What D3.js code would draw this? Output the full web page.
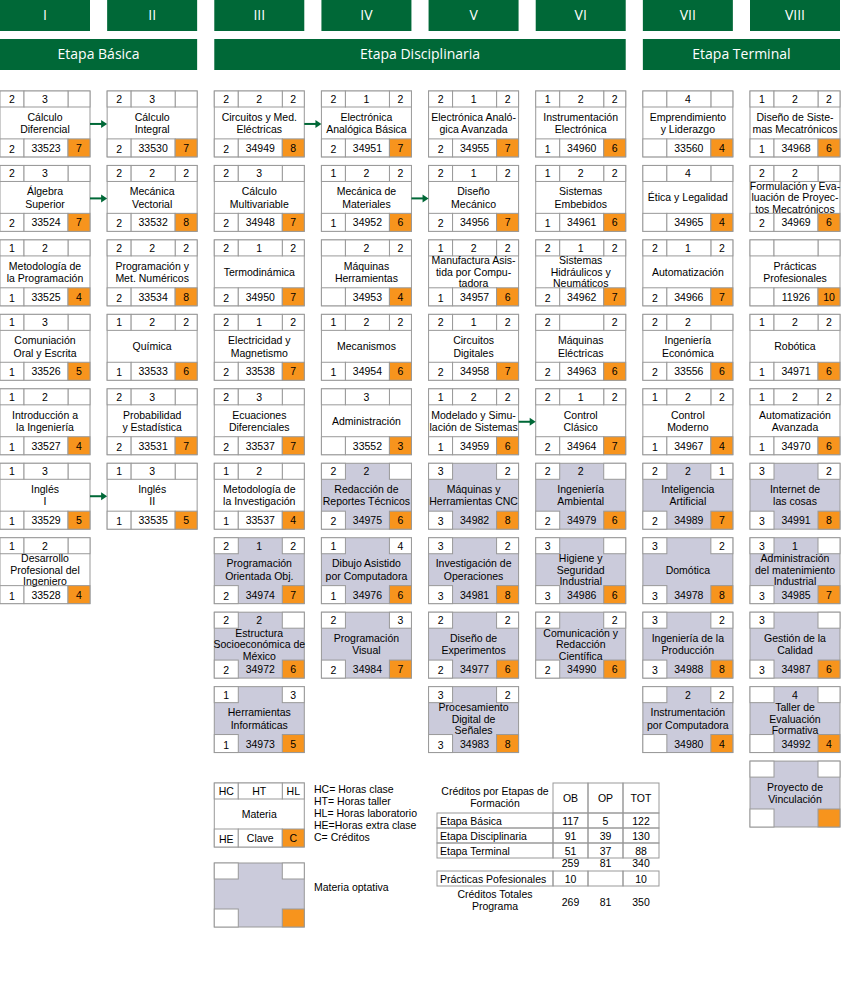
<!DOCTYPE html>
<html><head><meta charset="utf-8">
<script src="https://cdn.jsdelivr.net/npm/d3@7"></script>
<style>body{margin:0;background:#fff}svg{font-family:"Liberation Sans",Arial,sans-serif}</style>
</head><body><svg id="c" width="843" height="984"></svg>
<script>
const semesters=["I","II","III","IV","V","VI","VII","VIII"];
const etapas=[["Etapa Básica",0,1],["Etapa Disciplinaria",2,5],["Etapa Terminal",6,7]];
// [col,row,HC,HT,HL,HE,clave,C,name,optional]
const courses=[
[0,0,2,3,"",2,"33523",7,"Cálculo|Diferencial",0],
[0,1,2,3,"",2,"33524",7,"Álgebra|Superior",0],
[0,2,1,2,"",1,"33525",4,"Metodología de|la Programación",0],
[0,3,1,3,"",1,"33526",5,"Comuniación|Oral y Escrita",0],
[0,4,1,2,"",1,"33527",4,"Introducción a|la Ingeniería",0],
[0,5,1,3,"",1,"33529",5,"Inglés|I",0],
[0,6,1,2,"",1,"33528",4,"Desarrollo|Profesional del|Ingeniero",0],
[1,0,2,3,"",2,"33530",7,"Cálculo|Integral",0],
[1,1,2,2,2,2,"33532",8,"Mecánica|Vectorial",0],
[1,2,2,2,2,2,"33534",8,"Programación y|Met. Numéricos",0],
[1,3,1,2,2,1,"33533",6,"Química",0],
[1,4,2,3,"",2,"33531",7,"Probabilidad|y Estadística",0],
[1,5,1,3,"",1,"33535",5,"Inglés|II",0],
[2,0,2,2,2,2,"34949",8,"Circuitos y Med.|Eléctricas",0],
[2,1,2,3,"",2,"34948",7,"Cálculo|Multivariable",0],
[2,2,2,1,2,2,"34950",7,"Termodinámica",0],
[2,3,2,1,2,2,"33538",7,"Electricidad y|Magnetismo",0],
[2,4,2,3,"",2,"33537",7,"Ecuaciones|Diferenciales",0],
[2,5,1,2,"",1,"33537",4,"Metodología de|la Investigación",0],
[2,6,2,1,2,2,"34974",7,"Programación|Orientada Obj.",1],
[2,7,2,2,"",2,"34972",6,"Estructura|Socioeconómica de|México",1],
[2,8,1,"",3,1,"34973",5,"Herramientas|Informáticas",1],
[3,0,2,1,2,2,"34951",7,"Electrónica|Analógica Básica",0],
[3,1,1,2,2,1,"34952",6,"Mecánica de|Materiales",0],
[3,2,"",2,2,"","34953",4,"Máquinas|Herramientas",0],
[3,3,1,2,2,1,"34954",6,"Mecanismos",0],
[3,4,"",3,"","","33552",3,"Administración",0],
[3,5,2,2,"",2,"34975",6,"Redacción de|Reportes Técnicos",1],
[3,6,1,"",4,1,"34976",6,"Dibujo Asistido|por Computadora",1],
[3,7,2,"",3,2,"34984",7,"Programación|Visual",1],
[4,0,2,1,2,2,"34955",7,"Electrónica Analó-|gica Avanzada",0],
[4,1,2,1,2,2,"34956",7,"Diseño|Mecánico",0],
[4,2,1,2,2,1,"34957",6,"Manufactura Asis-|tida por Compu-|tadora",0],
[4,3,2,1,2,2,"34958",7,"Circuitos|Digitales",0],
[4,4,1,2,2,1,"34959",6,"Modelado y Simu-|lación de Sistemas",0],
[4,5,3,"",2,3,"34982",8,"Máquinas y|Herramientas CNC",1],
[4,6,3,"",2,3,"34981",8,"Investigación de|Operaciones",1],
[4,7,2,"",2,2,"34977",6,"Diseño de|Experimentos",1],
[4,8,3,"",2,3,"34983",8,"Procesamiento|Digital de|Señales",1],
[5,0,1,2,2,1,"34960",6,"Instrumentación|Electrónica",0],
[5,1,1,2,2,1,"34961",6,"Sistemas|Embebidos",0],
[5,2,2,1,2,2,"34962",7,"Sistemas|Hidráulicos y|Neumáticos",0],
[5,3,2,"",2,2,"34963",6,"Máquinas|Eléctricas",0],
[5,4,2,1,2,2,"34964",7,"Control|Clásico",0],
[5,5,2,2,"",2,"34979",6,"Ingeniería|Ambiental",1],
[5,6,3,"","",3,"34986",6,"Higiene y|Seguridad|Industrial",1],
[5,7,2,"",2,2,"34990",6,"Comunicación y|Redacción|Científica",1],
[6,0,"",4,"","","33560",4,"Emprendimiento|y Liderazgo",0],
[6,1,"",4,"","","34965",4,"Ética y Legalidad",0],
[6,2,2,1,2,2,"34966",7,"Automatización",0],
[6,3,2,2,"",2,"33556",6,"Ingeniería|Económica",0],
[6,4,1,2,2,1,"34967",4,"Control|Moderno",0],
[6,5,2,2,1,2,"34989",7,"Inteligencia|Artificial",1],
[6,6,3,"",2,3,"34978",8,"Domótica",1],
[6,7,3,"",2,3,"34988",8,"Ingeniería de la|Producción",1],
[6,8,"",2,2,"","34980",4,"Instrumentación|por Computadora",1],
[7,0,1,2,2,1,"34968",6,"Diseño de Siste-|mas Mecatrónicos",0],
[7,1,2,2,"",2,"34969",6,"Formulación y Eva-|luación de Proyec-|tos Mecatrónicos",0],
[7,2,"","","","","11926",10,"Prácticas|Profesionales",0],
[7,3,1,2,2,1,"34971",6,"Robótica",0],
[7,4,1,2,2,1,"34970",6,"Automatización|Avanzada",0],
[7,5,3,"",2,3,"34991",8,"Internet de|las cosas",1],
[7,6,3,1,"",3,"34985",7,"Administración|del matenimiento|Industrial",1],
[7,7,3,"","",3,"34987",6,"Gestión de la|Calidad",1],
[7,8,"",4,"","","34992",4,"Taller de|Evaluación|Formativa",1],
[7,9,"","","","","","","Proyecto de|Vinculación",1]
];
const arrows=[[0,0],[0,1],[0,5],[2,0],[3,1],[4,4]];
const legendLines=["HC= Horas clase","HT= Horas taller","HL= Horas laboratorio","HE=Horas extra clase","C= Créditos"];
const tableHeader=["OB","OP","TOT"];
const tableRows=[["Etapa Básica",117,5,122],["Etapa Disciplinaria",91,39,130],["Etapa Terminal",51,37,88]];
const subtotal=[259,81,340];
const practicas=["Prácticas Pofesionales",10,"",10];
const totales=["Créditos Totales|Programa",269,81,350];

const GREEN="#006837",ORANGE="#f7941d",GREY="#cbcbdb",BORDER="#999";
const FS=10.5;
const svg=d3.select("#c");
const x=d3.scaleBand().domain(d3.range(8)).range([0,840]).paddingInner(0.16).paddingOuter(0);
const y=d3.scaleBand().domain(d3.range(10)).range([91,827]).paddingInner(0.115).paddingOuter(0);
const W=x.bandwidth(),H=y.bandwidth();
const hdr=svg.append("g").style("font-family","'Open Sans',sans-serif");
semesters.forEach((s,i)=>{
  hdr.append("rect").attr("x",x(i)).attr("y",0).attr("width",W).attr("height",31).attr("fill",GREEN);
  hdr.append("text").attr("x",x(i)+W/2).attr("y",20).attr("text-anchor","middle").attr("fill","#fff").attr("font-size",14).text(s);
});
etapas.forEach(([n,a,b])=>{
  hdr.append("rect").attr("x",x(a)).attr("y",39).attr("width",x(b)+W-x(a)).attr("height",31).attr("fill",GREEN);
  hdr.append("text").attr("x",(x(a)+x(b)+W)/2).attr("y",59).attr("text-anchor","middle").attr("fill","#fff").attr("font-size",14).text(n);
});
function box(g,X,Y,w,h,d){
  const [hc,ht,hl,he,code,cr,name,opt]=d;
  const tH=16,bH=18,lw=24,rw=22;
  g.append("rect").attr("x",X).attr("y",Y).attr("width",w).attr("height",h).attr("fill",opt?GREY:"#fff").attr("stroke",BORDER);
  const cell=(cx,cy,cw,ch,fill)=>g.append("rect").attr("x",cx).attr("y",cy).attr("width",cw).attr("height",ch).attr("fill",fill).attr("stroke",BORDER);
  cell(X,Y,lw,tH,"#fff");cell(X+w-rw,Y,rw,tH,"#fff");
  if(!opt)cell(X+lw,Y,w-lw-rw,tH,"#fff");
  cell(X,Y+h-bH,lw,bH,"#fff");
  if(!opt)cell(X+lw,Y+h-bH,w-lw-rw,bH,"#fff");
  cell(X+w-rw,Y+h-bH,rw,bH,ORANGE);
  const t=(tx,ty,s)=>g.append("text").attr("x",tx).attr("y",ty).attr("text-anchor","middle").attr("font-size",FS).attr("fill","#000").text(s);
  t(X+lw/2,Y+12,hc);t(X+w/2,Y+12,ht);t(X+w-rw/2,Y+12,hl);
  t(X+lw/2,Y+h-4,he);t(X+lw+(w-lw-rw)/2,Y+h-5,code);t(X+w-rw/2,Y+h-5,cr);
  const lines=name.split("|");const lh=lines.length>2?11.5:12.5;
  const cy=Y+tH+(h-tH-bH)/2-(lines.length-1)*lh/2+4;
  lines.forEach((l,i)=>t(X+w/2,cy+i*lh,l));
}
const g=svg.append("g");
courses.forEach(c=>box(g,x(c[0]),y(c[1]),W,H,c.slice(2)));
arrows.forEach(([c,r])=>{
  const x0=x(c)+W,x1=x(c+1),yy=y(r)+H/2;
  g.append("line").attr("x1",x0).attr("x2",x1-5).attr("y1",yy).attr("y2",yy).attr("stroke",GREEN).attr("stroke-width",2);
  g.append("path").attr("d",`M${x1},${yy}L${x1-6},${yy-4}L${x1-6},${yy+4}Z`).attr("fill",GREEN);
});
// legend
const lg=svg.append("g");
box(lg,x(2),783,W,64,["HC","HT","HL","HE","Clave","C","Materia",0]);
box(lg,x(2),863,W,64,["","","","","","","",1]);
legendLines.forEach((s,i)=>lg.append("text").attr("x",314).attr("y",793+i*12).attr("font-size",FS).text(s));
lg.append("text").attr("x",314).attr("y",891).attr("font-size",FS).text("Materia optativa");
// table
const tx=d3.scaleOrdinal().domain(["lab","OB","OP","TOT"]).range([437,553,588,623]);
const tw={lab:116,OB:35,OP:35,TOT:36};
const tb=svg.append("g").attr("font-size",FS);
const rect=(a,yy,w,h)=>tb.append("rect").attr("x",a).attr("y",yy).attr("width",w).attr("height",h).attr("fill","none").attr("stroke",BORDER);
["Créditos por Etapas de","Formación"].forEach((s,i)=>tb.append("text").attr("x",495).attr("y",795+i*12).attr("text-anchor","middle").text(s));
tableHeader.forEach(h=>{rect(tx(h),783,tw[h],30);tb.append("text").attr("x",tx(h)+tw[h]/2).attr("y",802).attr("text-anchor","middle").text(h);});
tableRows.forEach((r,i)=>{const yy=813+i*15;
  rect(437,yy,116,15);tb.append("text").attr("x",440).attr("y",yy+12).text(r[0]);
  tableHeader.forEach((h,j)=>{rect(tx(h),yy,tw[h],15);tb.append("text").attr("x",tx(h)+tw[h]/2).attr("y",yy+12).attr("text-anchor","middle").text(r[j+1]);});
});
tableHeader.forEach((h,j)=>tb.append("text").attr("x",tx(h)+tw[h]/2).attr("y",867).attr("text-anchor","middle").text(subtotal[j]));
rect(437,871,116,15);tb.append("text").attr("x",440).attr("y",883).text(practicas[0]);
tableHeader.forEach((h,j)=>{rect(tx(h),871,tw[h],15);tb.append("text").attr("x",tx(h)+tw[h]/2).attr("y",883).attr("text-anchor","middle").text(practicas[j+1]);});
totales[0].split("|").forEach((s,i)=>tb.append("text").attr("x",495).attr("y",898+i*12).attr("text-anchor","middle").text(s));
tableHeader.forEach((h,j)=>tb.append("text").attr("x",tx(h)+tw[h]/2).attr("y",906).attr("text-anchor","middle").text(totales[j+1]));
</script></body></html>
